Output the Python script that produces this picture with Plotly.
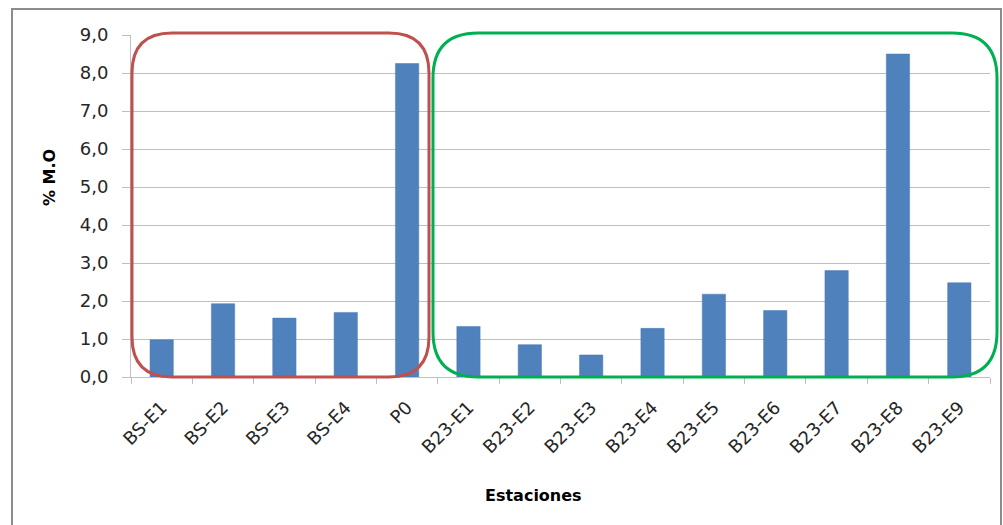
import plotly.graph_objects as go

categories = ["BS-E1", "BS-E2", "BS-E3", "BS-E4", "P0",
              "B23-E1", "B23-E2", "B23-E3", "B23-E4", "B23-E5",
              "B23-E6", "B23-E7", "B23-E8", "B23-E9"]
mo_values = [0.98, 1.93, 1.55, 1.70, 8.25,
             1.33, 0.85, 0.58, 1.28, 2.18,
             1.75, 2.80, 8.50, 2.48]
y_ticks = [0, 1, 2, 3, 4, 5, 6, 7, 8, 9]

W, H = 1003, 525
L, R, T, B = 131, 13, 35, 148
PW, PH = W - L - R, H - T - B


def px(x):
    return (x - L) / PW


def py(y):
    return (H - B - y) / PH


def rounded_rect(x0, y0, x1, y1, r):
    rx, ry = r / PW, r / PH
    X0, X1 = px(x0), px(x1)
    Y0, Y1 = py(y0), py(y1)
    return (f"M {X0+rx},{Y0} L {X1-rx},{Y0} Q {X1},{Y0} {X1},{Y0-ry} "
            f"L {X1},{Y1+ry} Q {X1},{Y1} {X1-rx},{Y1} "
            f"L {X0+rx},{Y1} Q {X0},{Y1} {X0},{Y1+ry} "
            f"L {X0},{Y0-ry} Q {X0},{Y0} {X0+rx},{Y0} Z")


fig = go.Figure()
fig.add_trace(go.Bar(
    x=categories, y=mo_values,
    marker=dict(color="#4F81BD", line=dict(color="#4A7AB5", width=0.5)),
    width=0.38,
))

font_family = "DejaVu Sans, Verdana, sans-serif"

fig.update_layout(
    width=W, height=H,
    margin=dict(l=L, r=R, t=T, b=B),
    paper_bgcolor="white", plot_bgcolor="white",
    separators=",.",
    showlegend=False,
    font=dict(family=font_family, size=14, color="#404040"),
    xaxis=dict(
        type="category",
        tickangle=-45,
        tickson="boundaries",
        ticks="outside", ticklen=6, tickcolor="#BFBFBF",
        ticklabelstandoff=12,
        showline=True, linecolor="#BFBFBF", linewidth=1,
        showgrid=False,
        tickfont=dict(size=18, color="#262626"),
        automargin=False,
    ),
    yaxis=dict(
        range=[0, 9],
        tickvals=y_ticks,
        tickformat=".1f",
        ticks="outside", ticklen=8, tickcolor="#BFBFBF",
        ticklabelstandoff=10,
        showline=True, linecolor="#BFBFBF", linewidth=1,
        showgrid=True, gridcolor="#BFBFBF", gridwidth=1,
        zeroline=False,
        tickfont=dict(size=18, color="#262626"),
        automargin=False,
    ),
    annotations=[
        dict(text="<b>Estaciones</b>", xref="paper", yref="paper",
             x=px(533), y=py(495), xanchor="center", yanchor="middle",
             showarrow=False, font=dict(size=16, color="#000000")),
        dict(text="<b>% M.O</b>", xref="paper", yref="paper",
             x=px(49), y=py(178), xanchor="center", yanchor="middle",
             textangle=-90, showarrow=False, font=dict(size=16, color="#000000")),
    ],
    shapes=[
        dict(type="rect", xref="paper", yref="paper",
             x0=px(12), y0=py(9), x1=px(1001), y1=py(540),
             line=dict(color="#8C8C8C", width=2), fillcolor="rgba(0,0,0,0)", layer="below"),
        dict(type="path", xref="paper", yref="paper",
             path=rounded_rect(132, 33, 429, 377, 40),
             line=dict(color="#C0504D", width=3)),
        dict(type="path", xref="paper", yref="paper",
             path=rounded_rect(433, 33, 997, 377, 45),
             line=dict(color="#00B050", width=3)),
    ],
)

fig.write_html("out.html", config={"displayModeBar": False},
               post_script="document.body.style.margin='0px';document.body.style.overflow='hidden';")
